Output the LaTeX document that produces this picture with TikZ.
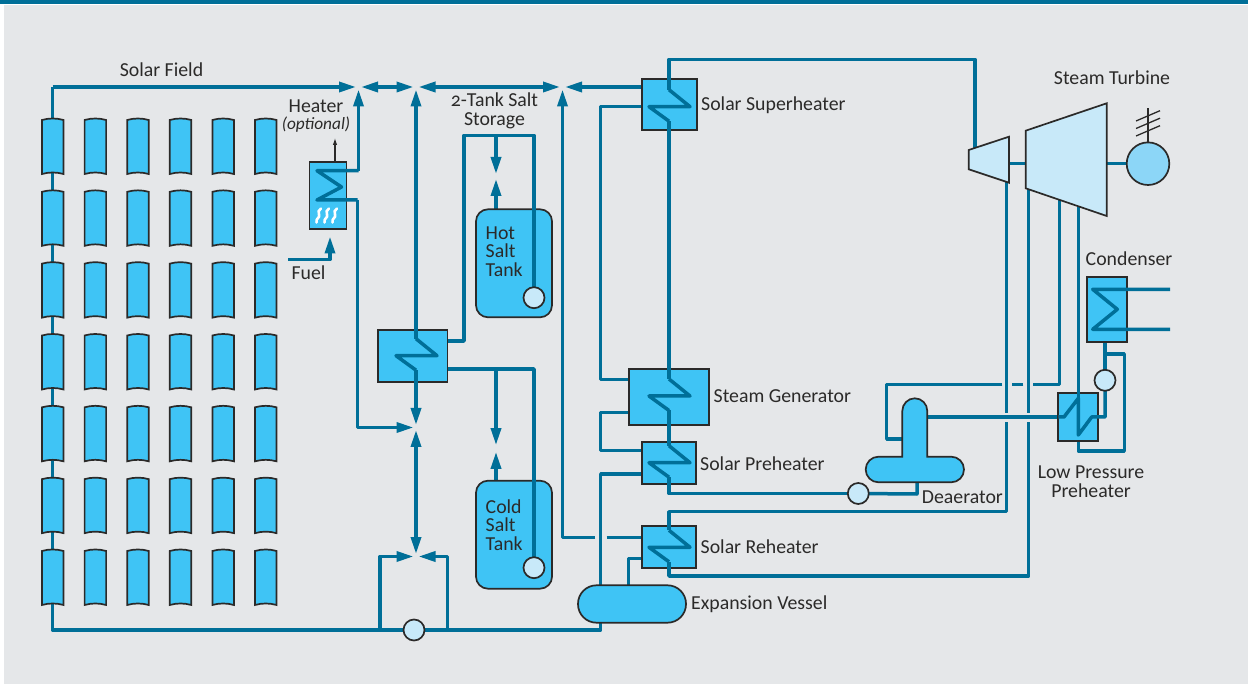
\documentclass[tikz,border=0pt]{standalone}
\usepackage{fontspec}
\setmainfont[Numbers=OldStyle]{Carlito}
\usepackage{tikz}
\usetikzlibrary{arrows.meta}
\definecolor{pipeblue}{HTML}{006F98}
\definecolor{cellblue}{HTML}{3FC4F5}
\definecolor{paleblue}{HTML}{C8E9F9}
\definecolor{genblue}{HTML}{8CD6F7}
\definecolor{panelgrey}{HTML}{E5E7E9}
\definecolor{inkgrey}{HTML}{2B2A29}
\pgfdeclarelayer{pipes}
\pgfdeclarelayer{top}
\pgfsetlayers{pipes,main,top}
\tikzset{
  flowtip/.tip={Triangle[length=17pt,width=10pt]},
  pipe/.style={draw=pipeblue,line width=3.5pt,line join=round},
  flow/.style={pipe,-flowtip,shorten >=2.5pt},
  twoway/.style={pipe,flowtip-flowtip,shorten >=2.5pt,shorten <=2.5pt},
  machine/.style={draw=inkgrey,line width=1.7pt,fill=cellblue,line join=miter},
  hxbox/.style={machine,inner sep=0pt,outer sep=0pt},
  tank/.style={machine,inner sep=0pt,outer sep=0pt,rounded corners=12pt,minimum width=76pt,minimum height=108pt},
  pump/.style={machine,fill=paleblue,circle,inner sep=0pt,outer sep=0pt,minimum size=21pt},
  lbl/.style={text=inkgrey,inner sep=0pt,font=\fontsize{19.8}{18.6}\selectfont},
  flame/.style={draw=white,line width=2.6pt,line cap=round},
  coil/.pic={\coordinate (-in) at (0,-17); \coordinate (-out) at (0,14.5);
    \draw[pipe] (-in) -- (21,0) -- (-20,0) -- (-out);},
  collector/.pic={\draw[machine] (0,2) .. controls (7,0) and (14.5,0) .. (21.5,2) -- (21.5,56)
    .. controls (14.5,54) and (7,54) .. (0,56) -- cycle;}
}
\begin{document}
\begin{tikzpicture}[x=1pt,y=-1pt]
\useasboundingbox (0,0) rectangle (1248,684);
\begin{pgfonlayer}{pipes}
\fill[white] (0,0) rectangle (1248,684);
\fill[panelgrey] (4,5.5) rectangle (1248,684);
\fill[pipeblue] (0,0) rectangle (1248,4.3);
\end{pgfonlayer}

\foreach \col in {0,...,5}
  \foreach \row in {0,...,6}
    \pic at (42+42.6*\col,118+71.83*\row) {collector};

\node[hxbox,minimum width=37pt,minimum height=67pt] (heater) at (328,195.5) {};
\node[hxbox,minimum width=69.5pt,minimum height=52pt] (saltBox) at (412.7,356) {};
\node[hxbox,minimum width=54.7pt,minimum height=50.7pt] (shBox) at (669.6,104.6) {};
\node[hxbox,minimum width=80pt,minimum height=55.4pt] (sgBox) at (668.7,397) {};
\node[hxbox,minimum width=54.3pt,minimum height=42.6pt] (phBox) at (668.8,463) {};
\node[hxbox,minimum width=54.3pt,minimum height=42.6pt] (rhBox) at (668.8,547) {};
\node[hxbox,minimum width=39.4pt,minimum height=48.6pt] (lpBox) at (1078,417) {};
\node[hxbox,minimum width=40.6pt,minimum height=65pt] (condBox) at (1107,309.2) {};
\node[tank] (hotTank) at (514,263.3) {};
\node[tank] (coldTank) at (514,534.7) {};
\node[hxbox,rounded corners=18.5pt,minimum width=108pt,minimum height=37.4pt] (vessel) at (632,604) {};
\draw[machine] (902.3,411) .. controls (902.3,404) and (907.9,398.3) .. (914.8,398.3)
  .. controls (921.7,398.3) and (927.3,404) .. (927.3,411) -- (927.3,456.7) -- (951.2,456.7)
  .. controls (958.3,456.7) and (964,462.4) .. (964,469.5) .. controls (964,476.6) and (958.3,482.3) .. (951.2,482.3)
  -- (878.5,482.3) .. controls (871.4,482.3) and (865.7,476.6) .. (865.7,469.5)
  .. controls (865.7,462.4) and (871.4,456.7) .. (878.5,456.7) -- (902.3,456.7) -- cycle;

\begin{pgfonlayer}{top}
\node[pump] (pumpMain) at (414,630) {};
\node[pump] (pumpHot) at (534,297.7) {};
\node[pump] (pumpCold) at (534,567.7) {};
\node[pump] (pumpFeed) at (858.3,493.5) {};
\node[pump] (pumpCond) at (1105,380.3) {};
\node[pump,fill=genblue,minimum size=42.6pt] (generator) at (1148,163.7) {};
\draw[machine,fill=paleblue] (968.7,150) -- (1009,136.7) -- (1009,182.7) -- (968.7,169.3) -- cycle;
\draw[machine,fill=paleblue] (1025.7,130.7) -- (1106.7,103.3) -- (1106.7,216) -- (1025.7,188.3) -- cycle;
\draw[inkgrey,line width=1.3pt] (generator.north) -- (1148,108.3);
\foreach \i in {0,7.5,15}
  \draw[inkgrey,line width=1.3pt] (1136,121+\i) -- (1160,110.7+\i);
\end{pgfonlayer}

\coordinate (jnA) at (358.5,87);
\coordinate (jnB) at (416,87);
\coordinate (jnC) at (562.5,87);
\coordinate (jnD) at (416,427.5);
\coordinate (jnE) at (416,556.5);
\coordinate (jnHot) at (496,176.5);
\coordinate (jnCold) at (496,448.5);
\coordinate (fieldTop) at (52.5,87);
\coordinate (fieldBot) at (52.5,630);
\coordinate (loopL) at (380,630);
\coordinate (loopR) at (447.7,630);
\coordinate (mainEnd) at (600.7,630);
\coordinate (shDrop) at (600.7,106.7);
\coordinate (sgHigh) at (600.7,379.3);
\coordinate (sgLow) at (600.7,412.7);
\coordinate (phHigh) at (600.7,450.7);
\coordinate (phLow) at (600.7,474);
\coordinate (rhFeed) at (628.7,558.3);
\coordinate (bypassCut) at (595,537.3);
\coordinate (bypassCont) at (606.7,537.3);
\coordinate (bypassBend) at (562.5,537.3);
\coordinate (hotRise) at (464,341);
\coordinate (hotTop) at (464,135.3);
\coordinate (hotEnd) at (534,135.3);
\coordinate (coldEnd) at (534,369);
\coordinate (heatA) at (317,170.7);
\coordinate (heatB) at (341.5,187);
\coordinate (heatC) at (317,200);
\coordinate (heatD) at (357.5,200);
\coordinate (heatE) at (358.5,170.7);
\coordinate (fuelIn) at (288,259.5);
\coordinate (fuelTip) at (330,236.5);
\coordinate (flueTop) at (335,138);
\coordinate (steamBend) at (975,59.3);
\coordinate (steamIn) at (975,150);
\coordinate (reheatBend) at (1006.7,511.7);
\coordinate (reheatUp) at (1006.7,421.7);
\coordinate (reheatOn) at (1006.7,413);
\coordinate (reheatIn) at (1006.7,175);
\coordinate (backBend) at (1028.7,576);
\coordinate (backUp) at (1028.7,421.7);
\coordinate (backOn) at (1028.7,413);
\coordinate (backIn) at (1028.7,180);
\coordinate (bleedIn) at (1059.3,195);
\coordinate (bleedBend) at (1059.3,384.3);
\coordinate (bleedCutA) at (1033,384.3);
\coordinate (bleedCutB) at (1023.3,384.3);
\coordinate (bleedCutC) at (1011.7,384.3);
\coordinate (bleedCutD) at (1002.3,384.3);
\coordinate (bleedLeft) at (886.7,384.3);
\coordinate (bleedLow) at (886.7,439);
\coordinate (deaLeft) at (912,439);
\coordinate (deaOut) at (918,417);
\coordinate (deaLow) at (917,475);
\coordinate (feedBend) at (917,494);
\coordinate (lpFeed) at (1078.3,200);
\coordinate (lpIn) at (1064,417);
\coordinate (lpTop) at (1078.3,398.3);
\coordinate (lpBot) at (1078.3,435);
\coordinate (lpExit) at (1091.7,417);
\coordinate (lpBend) at (1105,417);
\coordinate (loopA) at (1078.3,451);
\coordinate (loopB) at (1124.3,451);
\coordinate (loopC) at (1124.3,354);
\coordinate (loopD) at (1105,354);
\coordinate (condA) at (1170,289.3);
\coordinate (condB) at (1092.7,289.3);
\coordinate (condC) at (1117.3,309.3);
\coordinate (condD) at (1092.7,329.3);
\coordinate (condE) at (1170,329.3);

\begin{pgfonlayer}{pipes}
\draw[flow] (fieldTop) -- (jnA);
\draw[pipe] (fieldTop) -- (fieldBot) -- (pumpMain);
\draw[pipe] (pumpMain) -- (mainEnd) -- (vessel.south -| mainEnd);
\draw[twoway] (jnA) -- (jnB);
\draw[twoway] (jnB) -- (jnC);
\draw[flow] (shBox.west |- jnC) -- (jnC);
\draw[twoway] (jnD) -- (jnE);
\draw[flow] (loopL) |- (jnE);
\draw[flow] (loopR) |- (jnE);
\draw[flow] (hotTank.north -| jnHot) -- (jnHot);
\draw[flow] (hotTop -| jnHot) -- (jnHot);
\draw[flow,shorten >=3.4pt] (coldEnd -| jnCold) -- (jnCold);
\draw[flow,shorten >=3.4pt] (coldTank.north -| jnCold) -- (jnCold);
\draw[pipe] (shBox.west |- shDrop) -- (shDrop) -- (sgHigh) -- (sgBox.west |- sgHigh);
\draw[pipe] (sgBox.west |- sgLow) -- (sgLow) -- (phHigh) -- (phBox.west |- phHigh);
\draw[pipe] (vessel.north -| phLow) -- (phLow) -- (phBox.west |- phLow);
\draw[pipe] (vessel.north -| rhFeed) -- (rhFeed) -- (rhBox.west |- rhFeed);
\draw[flow] (bypassCut) -- (bypassBend) -- (jnC);
\draw[pipe] (bypassCont) -- (rhBox.west |- bypassCont);
\draw[pipe] (reheatOn) -- (reheatIn);
\draw[pipe] (backOn) -- (backIn);
\draw[pipe] (bleedIn) -- (bleedBend) -- (bleedCutA);
\draw[pipe] (bleedCutB) -- (bleedCutC);
\draw[pipe] (bleedCutD) -- (bleedLeft) -- (bleedLow) -- (deaLeft);
\draw[pipe] (deaOut) -- (lpBox.west |- deaOut);
\draw[pipe] (pumpFeed) -- (feedBend) -- (deaLow);
\draw[pipe] (lpBox.south -| loopA) -- (loopA) -- (loopB) -- (loopC) -- (loopD);
\draw[pipe] (pumpCond) -- (condBox.south -| pumpCond);
\draw[pipe] (1009,163.7) -- (1025.7,163.7);
\draw[pipe] (1106.7,163.7) -- (generator);
\draw[pipe,-flowtip] (fuelIn) -| (fuelTip);
\end{pgfonlayer}

\pic (shCoil) at (669,106.7) {coil};
\pic (sgCoil) at (669,396) {coil};
\pic (phCoil) at (669,462.7) {coil};
\pic (rhCoil) at (669,547.3) {coil};
\pic (saltCoil) at (416,355.7) {coil};

\draw[pipe] (shCoil-in) |- (steamBend) -- (steamIn);
\draw[pipe] (shCoil-out) -- (sgCoil-in);
\draw[pipe] (sgCoil-out) -- (phCoil-in);
\draw[pipe] (phCoil-out) |- (pumpFeed);
\draw[pipe] (rhCoil-in) |- (reheatBend) -- (reheatUp);
\draw[pipe] (rhCoil-out) |- (backBend) -- (backUp);
\draw[flow] (saltCoil-in) -- (jnB);
\draw[flow] (saltCoil-out) -- (jnD);
\draw[pipe,shorten <=.8pt] (saltBox.east |- hotRise) -- (hotRise) -- (hotTop) -- (hotEnd) -- (pumpHot);
\draw[pipe,shorten <=.8pt] (saltBox.east |- coldEnd) -- (coldEnd) -- (pumpCold);

\draw[pipe] (heatE) -- (heatA) -- (heatB) -- (heatC) -- (heatD);
\draw[flow] (heatE) -- (jnA);
\draw[flow] (heatD) |- (jnD);
\draw[inkgrey,line width=1.1pt,-{Latex[length=7pt,width=4.5pt]}] (heater.north -| flueTop) -- (flueTop);
\foreach \x in {316.5,324.5,332.5}
  \draw[flame] (\x,222.5) .. controls (\x-1,218) and (\x+4,218) .. (\x+2.5,214.5) .. controls (\x+1.5,212) and (\x+2,210) .. (\x+4.5,208.5);

\draw[pipe] (lpFeed) -- (lpTop);
\draw[pipe] (lpBox.west |- lpIn) -- (lpIn) -- (lpTop) -- (lpBot) -- (lpExit) -- (lpBend) -- (pumpCond);
\draw[pipe] (condA) -- (condB) -- (condC) -- (condD) -- (condE);

\node[lbl] (fieldLabel) at (161.5,70) {Solar Field};
\node[lbl] (heaterLabel) at (316,106) {Heater};
\node[lbl,font=\fontsize{17.3}{18}\itshape] (optLabel) at (316,125) {(optional)};
\node[lbl] (fuelLabel) at (308.5,273) {Fuel};
\node[lbl,align=center] (storeLabel) at (494.5,111) {2-Tank Salt\\Storage};
\node[lbl,align=left,anchor=west] (hotLabel) at (485.5,251.5) {Hot\\Salt\\Tank};
\node[lbl,align=left,anchor=west] (coldLabel) at (485.5,525) {Cold\\Salt\\Tank};
\node[lbl,anchor=west] (shLabel) at (701,105.5) {Solar Superheater};
\node[lbl,anchor=west] (sgLabel) at (713.5,396.5) {Steam Generator};
\node[lbl,anchor=west] (phLabel) at (700,464) {Solar Preheater};
\node[lbl,anchor=west] (rhLabel) at (700.5,547) {Solar Reheater};
\node[lbl,anchor=west] (vesselLabel) at (691,604.5) {Expansion Vessel};
\node[lbl,anchor=west] (deaLabel) at (921.7,497) {Deaerator};
\node[lbl,align=center] (lpLabel) at (1091,482) {Low Pressure\\Preheater};
\node[lbl] (condLabel) at (1129,258.5) {Condenser};
\node[lbl] (turbLabel) at (1112,78) {Steam Turbine};
\end{tikzpicture}
\end{document}
